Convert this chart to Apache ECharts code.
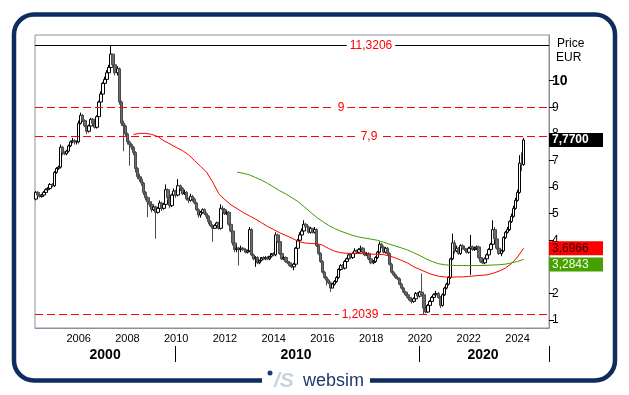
<!DOCTYPE html>
<html><head><meta charset="utf-8">
<script src="https://cdn.jsdelivr.net/npm/echarts@6/dist/echarts.min.js"></script>
<style>html,body{margin:0;padding:0;background:#fff}#c{width:629px;height:395px}</style>
</head><body><div id="c"></div>
<script>
// ---- axis definition ----
const firstMonth = [2004, 4];   // first category (year, month)
const lastMonth = [2025, 4];    // last category on the axis
const yearTicks = [2006, 2008, 2010, 2012, 2014, 2016, 2018, 2020, 2022, 2024];
const decadeNames = ['2000', '2010', '2020'];
const decadeBreaks = ['2010-01', '2020-01'];
const priceTicks = [1, 2, 3, 4, 5, 6, 7, 8, 9, 10];
const levels = [11.3206, 9, 7.9, 1.2039];

// ---- monthly OHLC from 2004-04 to 2024-04 ----
const opens = [
5.55,5.8,5.7,5.65,5.7,5.8,5.9,5.95,6.1,6.05,6.55,6.7,
6.75,7.5,7.3,7.25,7.35,7.55,7.7,7.75,7.7,7.7,8.4,8.7,
8.5,8.3,8.1,8.3,8.55,8.4,8.25,8.65,9.2,9.5,9.9,10.05,
10.3,10.5,11.0,10.6,10.3,10.45,9.2,8.4,8.3,8.0,7.7,7.6,
7.5,7.3,6.7,6.4,6.3,6.15,5.8,5.6,5.45,5.35,5.15,5.25,
5.05,5.2,5.4,5.2,5.35,5.9,5.6,5.3,5.7,5.85,5.7,6.05,
5.95,5.75,5.8,5.55,5.5,5.65,5.55,5.4,5.15,4.95,5.05,5.15,
5.0,4.9,4.7,4.55,4.45,4.55,4.65,4.45,5.2,5.15,5.0,5.05,
4.6,4.35,3.9,3.65,3.7,3.65,3.7,3.65,3.55,3.6,4.4,3.45,
3.3,3.35,3.15,3.25,3.35,3.3,3.35,3.3,3.4,3.5,3.45,4.2,
3.95,3.5,3.3,3.35,3.2,3.15,3.05,3.0,3.1,3.7,4.0,4.2,
4.35,4.6,4.5,4.3,4.45,4.3,4.4,3.8,3.5,3.2,2.8,2.6,
2.5,2.4,2.2,2.35,2.45,2.6,2.9,3.05,2.95,3.2,3.3,3.45,
3.35,3.5,3.6,3.55,3.65,3.7,3.55,3.45,3.5,3.3,3.15,3.2,
3.35,3.55,3.85,3.75,3.55,3.7,3.5,3.1,2.8,2.7,2.6,2.55,
2.35,2.2,2.05,1.95,1.85,1.75,1.7,1.8,2.0,1.9,2.05,1.95,
1.45,1.3,1.55,1.7,1.85,1.95,2.0,1.85,1.55,1.95,2.2,2.35,
2.6,3.3,3.9,3.6,3.7,3.5,3.8,3.7,3.65,3.55,3.7,3.75,
3.65,3.7,3.75,3.35,3.2,3.15,3.3,3.45,3.65,3.85,4.4,4.05,
3.7,3.5,3.6,4.1,4.3,4.4,4.7,4.9,5.2,5.5,5.8,6.9,
6.85];
const closes = [
5.8,5.7,5.65,5.7,5.8,5.9,5.95,6.1,6.05,6.55,6.7,6.75,
7.5,7.3,7.25,7.35,7.55,7.7,7.75,7.7,7.7,8.4,8.7,8.5,
8.3,8.1,8.3,8.55,8.4,8.25,8.65,9.2,9.5,9.9,10.05,10.3,
10.5,11.0,10.6,10.3,10.45,9.2,8.4,8.3,8.0,7.7,7.6,7.5,
7.3,6.7,6.4,6.3,6.15,5.8,5.6,5.45,5.35,5.15,5.25,5.05,
5.2,5.4,5.2,5.35,5.9,5.6,5.3,5.7,5.85,5.7,6.05,5.95,
5.75,5.8,5.55,5.5,5.65,5.55,5.4,5.15,4.95,5.05,5.15,5.0,
4.9,4.7,4.55,4.45,4.55,4.65,4.45,5.2,5.15,5.0,5.05,4.6,
4.35,3.9,3.65,3.7,3.65,3.7,3.65,3.55,3.6,4.4,3.45,3.3,
3.35,3.15,3.25,3.35,3.3,3.35,3.3,3.4,3.5,3.45,4.2,3.95,
3.5,3.3,3.35,3.2,3.15,3.05,3.0,3.1,3.7,4.0,4.2,4.35,
4.6,4.5,4.3,4.45,4.3,4.4,3.8,3.5,3.2,2.8,2.6,2.5,
2.4,2.2,2.35,2.45,2.6,2.9,3.05,2.95,3.2,3.3,3.45,3.35,
3.5,3.6,3.55,3.65,3.7,3.55,3.45,3.5,3.3,3.15,3.2,3.35,
3.55,3.85,3.75,3.55,3.7,3.5,3.1,2.8,2.7,2.6,2.55,2.35,
2.2,2.05,1.95,1.85,1.75,1.7,1.8,2.0,1.9,2.05,1.95,1.45,
1.3,1.55,1.7,1.85,1.95,2.0,1.85,1.55,1.95,2.2,2.35,2.6,
3.3,3.9,3.6,3.7,3.5,3.8,3.7,3.65,3.55,3.7,3.75,3.65,
3.7,3.75,3.35,3.2,3.15,3.3,3.45,3.65,3.85,4.4,4.05,3.7,
3.5,3.6,4.1,4.3,4.4,4.7,4.9,5.2,5.5,5.8,6.9,6.85,
7.77];
const lows = [
5.5,5.65,5.6,5.6,5.65,5.75,5.85,5.9,6.0,6.0,6.5,6.65,
6.7,7.2,7.2,7.2,7.3,7.5,7.65,7.6,7.6,7.65,8.35,8.45,
8.25,8.0,8.05,8.25,8.35,8.2,8.2,8.6,9.1,9.45,9.85,10.0,
10.25,10.45,10.5,10.2,10.2,9.1,8.3,7.35,7.9,7.6,6.8,7.4,
7.2,6.55,6.3,6.2,6.05,5.7,5.5,4.87,5.25,5.05,5.1,4.06,
5.0,5.15,5.1,5.15,5.3,5.5,5.2,5.25,5.6,5.6,5.65,5.85,
5.7,5.7,5.5,5.4,5.45,5.45,5.35,5.1,4.85,4.85,5.0,4.95,
4.8,4.6,4.5,3.94,4.45,4.5,4.4,4.4,5.05,4.95,4.95,4.55,
4.3,3.8,3.55,3.55,3.05,3.55,3.6,3.5,3.5,3.55,3.4,3.25,
3.0,3.1,3.1,3.2,3.25,3.25,3.25,3.25,3.35,3.4,3.4,3.9,
3.45,3.25,3.25,3.15,3.1,3.0,2.95,2.87,3.05,3.65,3.95,4.15,
4.3,4.45,4.25,4.25,4.25,4.25,3.75,3.45,3.15,2.75,2.55,2.3,
2.35,2.06,2.2,2.3,2.4,2.55,2.85,2.9,2.9,3.15,3.25,3.3,
3.3,3.45,3.5,3.5,3.6,3.5,3.4,3.4,3.25,3.1,3.1,3.15,
3.3,3.5,3.7,3.5,3.5,3.45,3.05,2.75,2.65,2.55,2.5,2.3,
2.15,2.0,1.9,1.8,1.7,1.62,1.65,1.75,1.85,1.85,1.9,1.2039,
1.25,1.28,1.5,1.65,1.8,1.9,1.8,1.45,1.5,1.9,2.15,2.3,
2.55,3.25,3.5,3.55,3.45,3.45,3.65,3.6,3.5,3.5,2.7,3.6,
3.6,3.65,3.3,3.15,3.1,3.1,3.25,3.4,3.6,3.8,4.0,3.65,
3.45,3.4,3.55,4.05,4.25,4.35,4.65,4.85,5.15,5.45,5.75,6.6,
6.8];
const highs = [
5.85,5.85,5.75,5.75,5.85,5.95,6.0,6.15,6.15,6.6,6.75,6.8,
7.6,7.55,7.35,7.4,7.6,7.75,7.85,7.8,7.75,8.5,8.8,8.75,
8.55,8.35,8.35,8.6,8.6,8.45,8.7,9.25,9.6,9.95,10.15,10.4,
10.6,11.32,11.0,10.65,10.55,10.5,9.25,8.5,8.35,8.05,7.75,7.65,
7.55,7.35,6.75,6.5,6.4,6.2,5.85,5.65,5.5,5.4,5.3,5.3,
5.25,5.5,5.45,5.4,6.1,5.95,5.65,5.75,5.95,5.9,6.3,6.1,
6.0,5.9,5.85,5.6,5.75,5.7,5.6,5.45,5.2,5.1,5.2,5.2,
5.05,4.95,4.75,4.6,4.6,4.7,4.7,5.35,5.3,5.2,5.1,5.1,
4.65,4.4,3.95,3.8,3.75,3.8,3.75,3.7,3.65,4.5,4.45,3.5,
3.4,3.4,3.2,3.3,3.4,3.4,3.4,3.35,3.45,3.55,4.3,4.25,
4.0,3.55,3.4,3.4,3.25,3.2,3.1,3.15,3.75,4.05,4.3,4.45,
4.75,4.65,4.55,4.5,4.45,4.5,4.45,3.85,3.55,3.25,2.85,2.65,
2.55,2.45,2.4,2.5,2.65,2.95,3.1,3.1,3.25,3.35,3.5,3.5,
3.55,3.7,3.65,3.7,3.8,3.75,3.6,3.55,3.55,3.35,3.25,3.4,
3.6,3.95,3.9,3.8,3.75,3.75,3.55,3.15,2.85,2.75,2.65,2.6,
2.4,2.25,2.1,2.0,1.9,1.8,1.85,2.05,2.05,2.1,2.75,2.0,
1.5,1.6,1.75,1.9,2.0,2.1,2.05,1.9,2.0,2.25,2.4,2.65,
3.35,4.25,4.0,3.8,3.75,3.85,3.85,3.8,3.7,3.75,4.2,3.8,
3.75,3.8,3.8,3.4,3.25,3.35,3.5,3.7,3.9,4.75,4.5,4.1,
3.75,3.65,4.15,4.35,4.5,4.75,5.0,5.3,5.6,5.9,7.2,7.3,
7.85];

// ---- moving averages, read quarterly ----
const maStep = 3;
const redFrom = '2008-04';
const redMA = [7.98,8.02,8.02,7.98,7.9,7.74,7.62,7.49,7.38,7.22,
7.0,6.78,6.56,6.18,5.75,5.52,5.33,5.19,5.04,4.92,
4.8,4.66,4.52,4.4,4.28,4.18,4.08,3.96,3.9,3.88,
3.87,3.82,3.69,3.59,3.53,3.51,3.5,3.5,3.49,3.48,
3.47,3.46,3.41,3.33,3.24,3.14,3.0,2.9,2.8,2.71,
2.65,2.62,2.61,2.62,2.62,2.64,2.66,2.68,2.7,2.76,
2.84,2.95,3.12,3.37,3.6966];
const greenFrom = '2012-07';
const greenMA = [6.56,6.52,6.46,6.36,6.26,6.14,6.0,5.86,5.74,5.6,
5.45,5.26,5.06,4.87,4.71,4.56,4.44,4.34,4.26,4.18,
4.12,4.08,4.04,4.0,3.93,3.85,3.78,3.71,3.63,3.53,
3.42,3.3,3.2,3.12,3.08,3.06,3.05,3.05,3.05,3.05,
3.05,3.06,3.07,3.08,3.1,3.15,3.2,3.2843];

// ---- build ----
const FONT = '"Liberation Sans", Arial, sans-serif';
const cats = [];
{
  let y = firstMonth[0], m = firstMonth[1];
  while (true) {
    cats.push(y + '-' + String(m).padStart(2, '0'));
    if (y === lastMonth[0] && m === lastMonth[1]) break;
    m++; if (m > 12) { m = 1; y++; }
  }
}
const candleData = closes.map((c, i) => [opens[i], c, lows[i], highs[i]]);
function maData(from, vals) {
  const s = cats.indexOf(from);
  return vals.map((v, k) => [s + k * maStep, v]);
}
const comma = v => String(v).replace('.', ',');
const fmt4 = v => v.toFixed(4).replace('.', ',');

// decade label centres = middle of each visible decade span
const breakIdx = decadeBreaks.map(d => cats.indexOf(d));
const spans = [0].concat(breakIdx).map((s, i, a) => [s, i + 1 < a.length ? a[i + 1] - 1 : cats.length - 1]);
const decadeCenter = {};
spans.forEach((sp, i) => { decadeCenter[Math.floor((sp[0] + sp[1]) / 2)] = decadeNames[i]; });

const levelShift = [158, 98, 154, 136];
const levelLines = levels.map((v, i) => ({
  yAxis: v,
  lineStyle: { color: i === 0 ? '#000' : '#ff0000', type: i === 0 ? 'solid' : [8, 4], width: 1 },
  label: {
    show: true, position: 'insideMiddle', distance: 0,
    formatter: '{s| }{t|' + comma(v) + '}',
    rich: {
      s: { width: levelShift[i], fontSize: 12 },
      t: { color: '#ff0000', fontSize: 12, fontFamily: FONT, backgroundColor: '#fff', padding: [0, 3], lineHeight: 14 }
    }
  }
}));
function tag(value, bg, fg, bold, dropLine) {
  return {
    yAxis: value,
    lineStyle: { color: 'rgba(0,0,0,0)', width: 1, type: 'solid' },
    label: {
      show: true, position: 'end', distance: 0,
      formatter: (dropLine ? '{g| }\n' : '') + '{t|' + fmt4(value) + '}',
      rich: {
        g: { height: 10, lineHeight: 10, fontSize: 8 },
        t: { backgroundColor: bg, color: fg, fontWeight: bold ? 'bold' : 'normal', fontSize: 12,
             fontFamily: FONT, width: 48, height: 14, lineHeight: 14, padding: [0, 3] }
      }
    }
  };
}

const chart = echarts.init(document.getElementById('c'), null, { renderer: 'canvas' });
chart.setOption({
  animation: false,
  backgroundColor: '#fff',
  textStyle: { fontFamily: FONT },
  grid: { left: 35, right: 80, top: 35, bottom: 67, show: true, borderColor: '#8e8ea0', borderWidth: 1, backgroundColor: 'transparent' },
  xAxis: [{
    type: 'category', data: cats, boundaryGap: true,
    axisLine: { show: true, lineStyle: { color: '#8e8ea0' } },
    axisTick: { show: false },
    axisLabel: {
      interval: (i, v) => v.slice(5) === '01' && yearTicks.includes(+v.slice(0, 4)),
      formatter: v => v.slice(0, 4), color: '#000', fontSize: 11, margin: 5, fontFamily: FONT
    },
    splitLine: { show: false }
  }, {
    type: 'category', data: cats, boundaryGap: true, position: 'bottom', offset: 18,
    axisLine: { show: false },
    axisTick: { show: true, length: 16, interval: (i, v) => decadeBreaks.includes(v), lineStyle: { color: '#000', width: 1 } },
    axisLabel: {
      interval: (i) => decadeCenter[i] !== undefined,
      formatter: (v, i) => decadeCenter[i] || '', color: '#000', fontSize: 14, fontWeight: 'bold', margin: 2, fontFamily: FONT
    },
    splitLine: { show: false }
  }],
  yAxis: {
    type: 'value', position: 'right', min: 0.7, max: 11.72,
    axisLine: { show: true, lineStyle: { color: '#8e8ea0' } },
    axisTick: { show: true, length: 5, customValues: priceTicks, lineStyle: { color: '#000' } },
    axisLabel: {
      customValues: priceTicks, margin: 3, color: '#000', fontSize: 12, fontFamily: FONT,
      formatter: v => v === 10 ? '{b|10}' : String(v),
      rich: { b: { fontWeight: 'bold', fontSize: 14, color: '#000', fontFamily: FONT } }
    },
    splitLine: { show: false }
  },
  series: [{
    type: 'candlestick', data: candleData, barWidth: 3,
    itemStyle: { color: '#ffffff', color0: '#6b6b6b', borderColor: '#000', borderColor0: '#4a4a4a', borderWidth: 1 },
    markLine: {
      silent: true, symbol: ['none', 'none'], animation: false,
      data: levelLines.concat([tag(closes[closes.length - 1], '#000', '#fff', true, false)])
    },
    z: 2
  }, {
    type: 'line', data: maData(redFrom, redMA), showSymbol: false, symbol: 'none',
    lineStyle: { color: '#ff0000', width: 1 }, z: 3,
    markLine: { silent: true, symbol: ['none', 'none'], animation: false, data: [tag(redMA[redMA.length - 1], '#ff0000', '#2a0000', false, false)] }
  }, {
    type: 'line', data: maData(greenFrom, greenMA), showSymbol: false, symbol: 'none',
    lineStyle: { color: '#3f9c00', width: 1 }, z: 3,
    markLine: { silent: true, symbol: ['none', 'none'], animation: false, data: [tag(greenMA[greenMA.length - 1], '#46a000', '#f0ffe8', false, true)] }
  }],
  graphic: [
    { type: 'rect', z: 0, shape: { x: 14, y: 14.5, width: 601, height: 366, r: 20 }, style: { fill: 'none', stroke: '#0e2c5e', lineWidth: 4.5 } },
    { type: 'rect', z: 1, shape: { x: 262, y: 368, width: 108, height: 27 }, style: { fill: '#fff' } },
    { type: 'circle', z: 2, shape: { cx: 270, cy: 373, r: 2.5 }, style: { fill: '#1b3a6b' } },
    { type: 'text', z: 2, x: 274, y: 371, style: { text: '/S', font: 'italic bold 21px ' + FONT, fill: '#c9d3e0' } },
    { type: 'text', z: 2, x: 303, y: 372, style: { text: 'websim', font: '18px ' + FONT, fill: '#1b3a6b' } },
    { type: 'text', z: 2, x: 557, y: 38, style: { text: 'Price', font: '12px ' + FONT, fill: '#000' } },
    { type: 'text', z: 2, x: 556, y: 52, style: { text: 'EUR', font: '12px ' + FONT, fill: '#000' } }
  ]
});
</script></body></html>
